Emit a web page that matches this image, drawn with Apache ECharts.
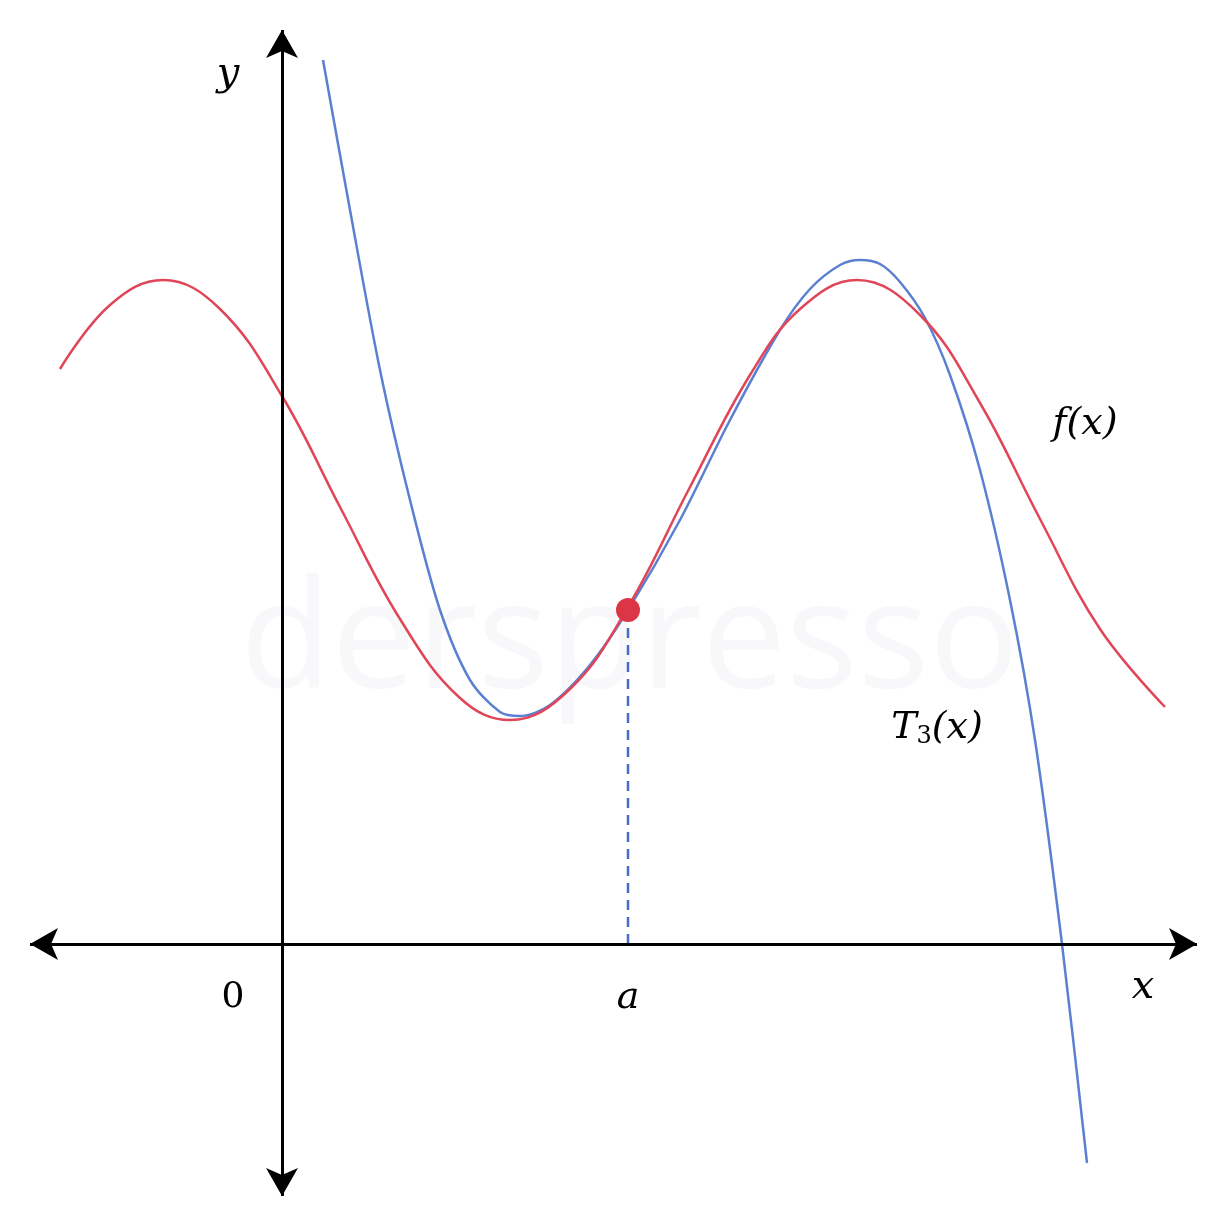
<!DOCTYPE html>
<html>
<head>
<meta charset="utf-8">
<script src="https://cdn.jsdelivr.net/npm/echarts@6/dist/echarts.min.js"></script>
<style>html,body{margin:0;padding:0;background:#fff}#chart{width:1226px;height:1226px}</style>
</head>
<body>
<div id="chart"></div>
<script>
// f(x) points
var fX = [-2.22, -1.72, -1.19, -0.62, 0, 0.58, 1.18, 1.78, 2.28, 2.88, 3.46, 4.08, 4.68, 5.18, 5.75, 6.38, 6.98, 7.58, 8.18, 8.83];
var fY = [5.75, 6.39, 6.64, 6.35, 5.48, 4.37, 3.25, 2.46, 2.24, 2.55, 3.37, 4.57, 5.69, 6.35, 6.64, 6.29, 5.41, 4.25, 3.15, 2.37];
// T3(x) points
var tX = [0.41, 0.68, 0.98, 1.28, 1.58, 1.88, 2.18, 2.38, 2.68, 3.08, 3.46, 3.98, 4.48, 4.98, 5.28, 5.58, 5.78, 5.98, 6.18, 6.43, 6.68, 6.98, 7.28, 7.53, 7.80, 8.05];
var tY = [8.84, 7.34, 5.74, 4.44, 3.34, 2.64, 2.32, 2.28, 2.39, 2.79, 3.34, 4.24, 5.24, 6.14, 6.55, 6.79, 6.84, 6.80, 6.62, 6.26, 5.69, 4.74, 3.44, 2.04, 0, -2.19];
var aX = 3.46, aY = 3.34;

function pts(xs, ys) { return xs.map(function (x, i) { return [x, ys[i]]; }); }

var chart = echarts.init(document.getElementById('chart'));
var serif = '"DejaVu Serif", "Liberation Serif", serif';
chart.setOption({
  animation: false,
  grid: { left: 0, right: 0, top: 0, bottom: 0 },
  xAxis: { type: 'value', min: -2.82, max: 9.44, show: false },
  yAxis: { type: 'value', min: -2.82, max: 9.44, show: false },
  graphic: [
    { type: 'text', left: 240, top: 570, z: 0, style: { text: 'derspresso', font: '150px "Open Sans", sans-serif', fill: 'rgba(120,120,150,0.05)' } },
    { type: 'text', x: 228, y: 75, style: { text: 'y', font: 'italic 40px ' + serif, fill: '#000', align: 'center', verticalAlign: 'middle' } },
    { type: 'text', x: 233, y: 998, style: { text: '0', font: '36px ' + serif, fill: '#000', align: 'center', verticalAlign: 'middle' } },
    { type: 'text', x: 628, y: 998, style: { text: 'a', font: 'italic 38px ' + serif, fill: '#000', align: 'center', verticalAlign: 'middle' } },
    { type: 'text', x: 1143, y: 988, style: { text: 'x', font: 'italic 40px ' + serif, fill: '#000', align: 'center', verticalAlign: 'middle' } },
    { type: 'text', x: 1085, y: 424, style: { text: 'f(x)', font: 'italic 38px ' + serif, fill: '#000', align: 'center', verticalAlign: 'middle' } },
    { type: 'text', x: 937, y: 728, style: { rich: { t: { font: 'italic 38px ' + serif }, s: { font: '24px ' + serif, padding: [18, 0, 0, 0] } }, text: '{t|T}{s|3}{t|(x)}', fill: '#000', align: 'center', verticalAlign: 'middle' } }
  ],
  series: [
    {
      type: 'line', data: [], silent: true,
      markLine: {
        silent: true, symbol: ['arrow', 'arrow'], symbolSize: [24, 28],
        label: { show: false },
        lineStyle: { color: '#000', width: 3, type: 'solid' },
        data: [
          [{ coord: [-2.52, 0] }, { coord: [9.15, 0] }],
          [{ coord: [0, -2.52] }, { coord: [0, 9.14] }]
        ]
      }
    },
    {
      type: 'line', data: [[aX, 0], [aX, aY]], showSymbol: false,
      lineStyle: { color: '#4a6cc8', width: 2.5, type: [10, 7] }
    },
    {
      type: 'line', data: pts(tX, tY), smooth: 0.3, showSymbol: false,
      lineStyle: { color: '#5b80d2', width: 2.5 }
    },
    {
      type: 'line', data: pts(fX, fY), smooth: 0.4, showSymbol: false,
      lineStyle: { color: '#e04658', width: 2.5 }
    },
    {
      type: 'scatter', data: [[aX, aY]], symbolSize: 24,
      itemStyle: { color: '#dc3545', opacity: 1 }, z: 5
    }
  ]
});
</script>
</body>
</html>
